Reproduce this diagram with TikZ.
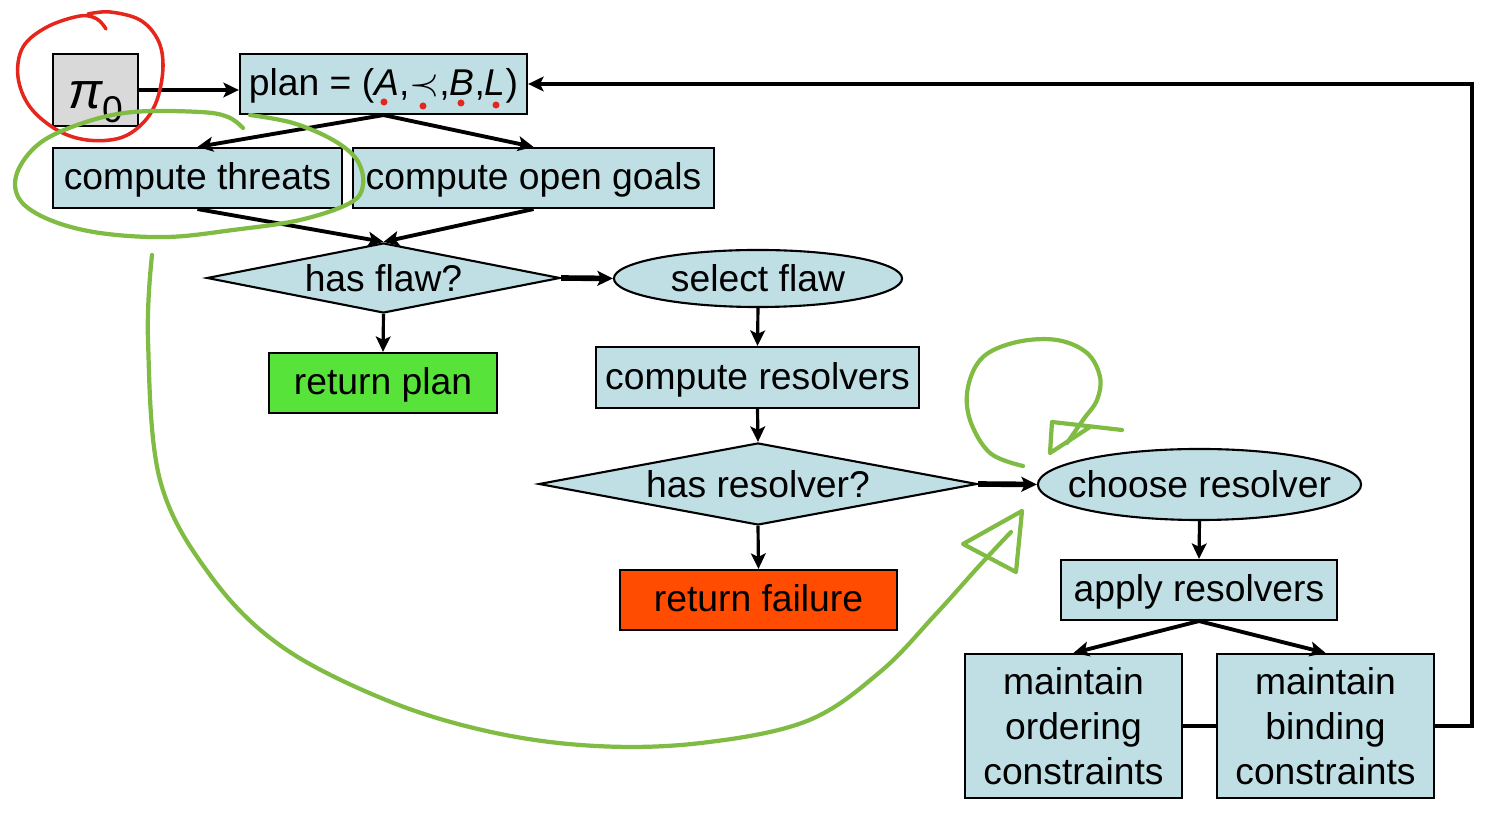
\documentclass[tikz,border=0pt]{standalone}
\usepackage{fontspec}
\setmainfont{Liberation Sans}
\usetikzlibrary{arrows.meta,shapes.geometric}

\definecolor{flowblue}{RGB}{191,223,229}
\definecolor{startgray}{RGB}{217,217,217}
\definecolor{okgreen}{RGB}{87,227,58}
\definecolor{failred}{RGB}{255,76,0}
\definecolor{penred}{RGB}{228,38,28}
\definecolor{pengreen}{RGB}{128,188,68}
\newcommand{\flowfont}{\fontsize{10.6}{12.8}\selectfont}

\tikzset{
  flowbox/.style={draw, line width=0.6pt, fill=flowblue, inner sep=0pt, font=\flowfont, align=center},
  oneline/.style={flowbox, text height=7.8pt, text depth=1pt},
  flowtest/.style={flowbox, diamond, aspect=5},
  flowstep/.style={flowbox, ellipse, inner xsep=-0.5cm},
  link/.style={->, line width=0.9pt},
  fatlink/.style={->, line width=1.6pt},
  redpen/.style={penred, line width=1pt, line cap=round, line join=round},
  greenpen/.style={pengreen, line width=1.2pt, line cap=round, line join=round},
}

\begin{document}
\begin{tikzpicture}[x=0.01cm, y=-0.01cm, >={Stealth[length=4.4pt,width=4.2pt,inset=1pt]}]
    \useasboundingbox (0,0) rectangle (1490,819);

    \node[flowbox, fill=startgray, minimum width=0.85cm, minimum height=0.72cm,
          text height=0.5cm, text depth=0.14cm] (pi0) at (95.5,90)
          {{\fontsize{14.5}{15}\selectfont\itshape π}\raisebox{-4pt}{0}};
    \node[oneline, minimum width=2.87cm, minimum height=0.6cm] (plan) at (383.5,84)
          {plan = (\textit{A},$\prec$,\textit{B},\textit{L})};
    \node[oneline, minimum width=2.89cm, minimum height=0.6cm] (threats) at (197.5,178) {compute threats};
    \node[oneline, minimum width=3.61cm, minimum height=0.6cm] (goals) at (533.5,178) {compute open goals};
    \node[flowtest, minimum width=3.53cm, minimum height=0.7cm] (hasflaw) at (383.5,278) {has flaw?};
    \node[oneline, fill=okgreen, minimum width=2.28cm, minimum height=0.6cm] (retplan) at (383,383) {return plan};
    \node[flowstep, minimum width=2.88cm, minimum height=0.57cm] (selflaw) at (758,278.5) {select flaw};
    \node[oneline, minimum width=3.23cm, minimum height=0.61cm] (compres) at (757.5,377.5) {compute resolvers};
    \node[flowtest, aspect=5.3, minimum width=4.38cm, minimum height=0.82cm] (hasres) at (758,484) {has resolver?};
    \node[oneline, fill=failred, minimum width=2.77cm, minimum height=0.6cm] (retfail) at (758.5,600) {return failure};
    \node[flowstep, minimum width=3.23cm, minimum height=0.71cm] (choose) at (1199.5,484.5) {choose resolver};
    \node[oneline, minimum width=2.76cm, minimum height=0.6cm] (apply) at (1199,590) {apply resolvers};
    \node[flowbox, minimum width=2.17cm, minimum height=1.44cm] (order) at (1073.5,726) {maintain\\ordering\\constraints};
    \node[flowbox, minimum width=2.17cm, minimum height=1.44cm] (bind) at (1325.5,726) {maintain\\binding\\constraints};
    \coordinate (back) at (1472,84);

    \draw[link] (pi0.east) -- (pi0.east -| plan.west);
    \draw[link, line width=1.1pt] (plan.south) -- (threats.north);
    \draw[link, line width=1.1pt] (plan.south) -- (goals.north);
    \draw[link, line width=1.1pt] (threats.south) -- (hasflaw.north);
    \draw[link, line width=1.1pt] (goals.south) -- (hasflaw.north);
    \draw[fatlink] (hasflaw.east) -- (selflaw.west);
    \draw[link] (hasflaw.south) -- (retplan.north);
    \draw[link] (selflaw.south) -- (compres.north);
    \draw[link] (compres.south) -- (hasres.north);
    \draw[fatlink] (hasres.east) -- (choose.west);
    \draw[link] (hasres.south) -- (retfail.north);
    \draw[link] (choose.south) -- (apply.north);
    \draw[link, line width=1.1pt] (apply.south) -- (order.north);
    \draw[link, line width=1.1pt] (apply.south) -- (bind.north);
    \draw[line width=1.4pt] (order.east) -- (bind.west);
    \draw[link, line width=1.1pt] (bind.east) -| (back) -- (plan.east);

    % pen marks
    \fill[penred] (384,102) circle (1pt) (423,106) circle (1pt)
                  (461,103) circle (1pt) (496,105) circle (1pt);
    \draw[redpen] plot[smooth, tension=0.6] coordinates {(106,29) (97,19) (80,16) (47,27) (23,47) (18,77)
        (30,107) (57,130) (87,140) (120,138) (143,123) (157,100) (163,67) (158,40) (140,20) (110,12) (88,14)};
    \draw[greenpen] plot[smooth, tension=0.6] coordinates {(243,128) (228,117) (200,112) (133,112) (83,123)
        (40,143) (17,173) (20,200) (50,220) (100,233) (167,237) (233,230) (300,220) (350,203) (363,185)
        (357,160) (333,140) (293,123) (250,115)};
    \draw[greenpen] plot[smooth, tension=0.6] coordinates {(152,255) (148,340) (160,480) (210,575) (281,646)
        (386,700) (491,732) (596,746) (701,743) (807,721) (880,672) (935,615) (980,565) (1011,532)};
    \draw[greenpen] (963,544) -- (1022,511) -- (1016,572) -- cycle;
    \draw[greenpen] plot[smooth, tension=0.6] coordinates {(1023,466) (990,453) (970,420) (968,387) (983,357)
        (1017,342) (1057,340) (1087,353) (1100,377) (1097,400) (1083,420) (1067,443)};
    \draw[greenpen] (1122,430) -- (1052,422) -- (1050,453) -- (1090,427);
\end{tikzpicture}
\end{document}
